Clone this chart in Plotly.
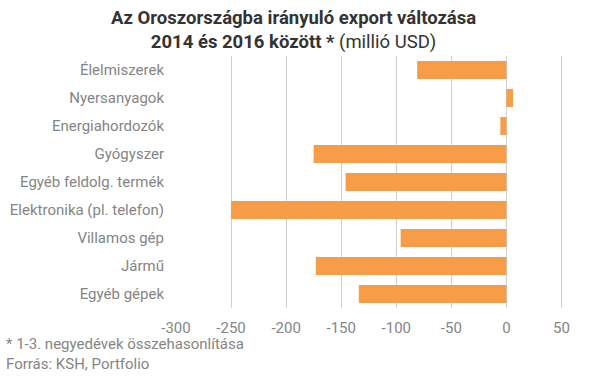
import plotly.graph_objects as go

categories = ["Élelmiszerek", "Nyersanyagok", "Energiahordozók", "Gyógyszer",
              "Egyéb feldolg. termék", "Elektronika (pl. telefon)", "Villamos gép",
              "Jármű", "Egyéb gépek"]
values = [-81, 6, -5.5, -175, -146, -250, -96, -173, -134]
x_ticks = [-300, -250, -200, -150, -100, -50, 0, 50]

fig = go.Figure(go.Bar(
    x=values, y=categories, orientation="h",
    marker=dict(color="#F79C47", line=dict(width=0)),
    width=0.64,
))

fig.update_layout(
    width=607, height=378,
    margin=dict(l=176, r=18, t=56, b=70),
    paper_bgcolor="white", plot_bgcolor="white",
    font=dict(family="Roboto", size=15, color="#858585"),
    showlegend=False,
    bargap=0.36,
)
fig.update_xaxes(
    range=[-300, 75], tickvals=x_ticks, ticktext=[str(v) for v in x_ticks],
    showgrid=True, gridcolor="#d0d0d0", gridwidth=1,
    zeroline=True, zerolinecolor="#d0d0d0", zerolinewidth=1,
    showline=False, ticks="", ticklabelstandoff=9, automargin=False,
    tickfont=dict(family="Roboto", size=15, color="#858585"),
)
fig.update_yaxes(
    autorange="reversed", showgrid=False, showline=False, ticks="",
    ticklabelstandoff=11, automargin=False,
    tickfont=dict(family="Roboto", size=15, color="#858585"),
)

fig.add_annotation(
    text="<b>Az Oroszországba irányuló export változása</b><br><b>2014 és 2016 között *</b> (millió USD)",
    xref="paper", yref="paper", x=(293.5 - 176) / 413, y=1, xanchor="center", yanchor="bottom",
    yshift=1, showarrow=False, align="center",
    font=dict(family="Roboto", size=18.5, color="#333333"),
)
fig.add_annotation(
    text="* 1-3. negyedévek összehasonlítása<br>Forrás: KSH, Portfolio",
    xref="paper", yref="paper", x=-172 / 413, y=0, xanchor="left", yanchor="top",
    yshift=-25, showarrow=False, align="left",
    font=dict(family="Roboto", size=15, color="#858585"),
)

fig.write_html("out.html", config={"displayModeBar": False},
               post_script="document.body.style.margin='0';document.body.style.overflow='hidden';")
